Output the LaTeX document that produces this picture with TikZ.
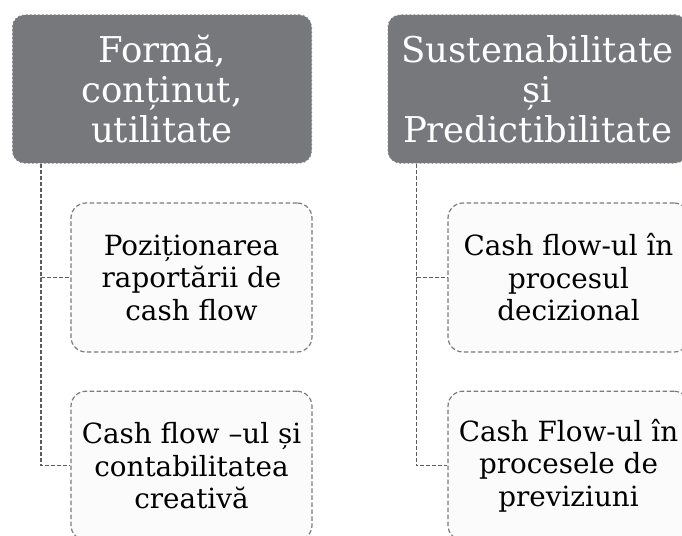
\documentclass[tikz,border=0pt]{standalone}
\usepackage{fontspec}
\setmainfont{DejaVu Serif}
\usepackage{xcolor}
\usetikzlibrary{positioning}

\definecolor{hdrgray}{HTML}{77787B}
\definecolor{hdrline}{HTML}{7E7F83}
\definecolor{subfill}{HTML}{FBFBFB}
\definecolor{subline}{HTML}{7A7B7F}
\definecolor{linkgray}{HTML}{5C5D61}

\begin{document}
\begin{tikzpicture}[x=1pt,y=-1pt,
  header/.style={draw=hdrline,fill=hdrgray,text=white,dash pattern=on 1.5pt off 2.5pt,
    rounded corners=12pt,minimum width=299pt,minimum height=148pt,align=center,
    font=\fontsize{35.5}{40}\selectfont,line width=1pt},
  topic/.style={draw=subline,fill=subfill,dash pattern=on 4.5pt off 2.5pt,
    rounded corners=15pt,minimum width=241pt,minimum height=149pt,align=center,
    font=\fontsize{27.8}{32.5}\selectfont,line width=1.2pt},
  link/.style={draw=linkgray,dash pattern=on 4pt off 2pt,line width=1.3pt}]
  \clip (0,0) rectangle (682,535);
  \useasboundingbox (0,0) rectangle (682,535);

  \node[header] (formA) at (162,89) {Formă,\\conținut,\\utilitate};
  \node[header] (sustB) at (537.5,89) {Sustenabilitate\\și\\Predictibilitate};

  \node[topic] (pozA) at (191.5,277.5) {Poziționarea\\raportării de\\cash flow};
  \node[topic, below=38pt of pozA] (creaA) {Cash flow –ul și\\contabilitatea\\creativă};
  \node[topic] (deciB) at (568.5,277.5) {Cash flow-ul în\\procesul\\decizional};
  \node[topic, below=38pt of deciB] (previB) {Cash Flow-ul în\\procesele de\\previziuni};

  % tree connectors
  \draw[link] ([xshift=29pt]formA.south west) |- (pozA.west);
  \draw[link] ([xshift=29pt]formA.south west) |- (creaA.west);
  \draw[link] ([xshift=29pt]sustB.south west) |- (deciB.west);
  \draw[link] ([xshift=29pt]sustB.south west) |- (previB.west);
\end{tikzpicture}
\end{document}
